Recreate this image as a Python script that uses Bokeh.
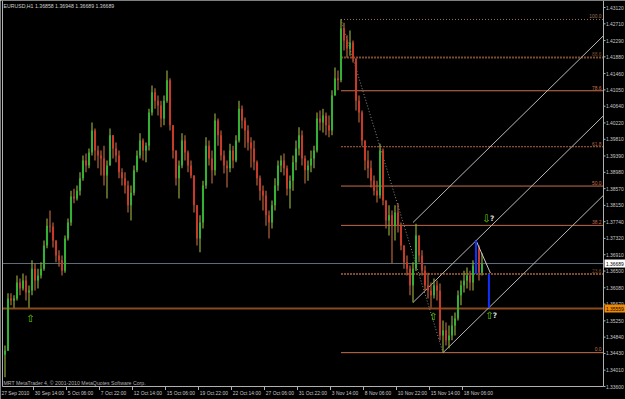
from bokeh.plotting import figure
from bokeh.models import Range1d
from bokeh.embed import file_html
from bokeh.resources import INLINE
from bokeh.core.properties import value

# ---------------- data ----------------
symbol_header = "EURUSD,H1  1.36858 1.36948 1.36689 1.36689"
copyright_text = "MRT MetaTrader 4, \u00a9 2001-2010 MetaQuotes Software Corp."

first_open = 1.3440
highs = [
    1.3463, 1.3594, 1.3594, 1.3589, 1.3639, 1.3631, 1.3644, 1.3639, 1.3614, 1.3677,
    1.3669, 1.3656, 1.3672, 1.3727, 1.3782, 1.3802, 1.3772, 1.3727, 1.3702, 1.3689,
    1.3739, 1.3782, 1.3852, 1.3857, 1.3865, 1.3898, 1.3940, 1.3945, 1.3958, 1.4023,
    1.4008, 1.3965, 1.3953, 1.3965, 1.3928, 1.4008, 1.3991, 1.3973, 1.3953, 1.3908,
    1.3898, 1.3877, 1.3865, 1.3915, 1.3953, 1.3996, 1.3983, 1.3973, 1.4058, 1.4116,
    1.4109, 1.4091, 1.4078, 1.4091, 1.4154, 1.4134, 1.4016, 1.3953, 1.3928, 1.3996,
    1.3991, 1.3953, 1.3928, 1.3890, 1.3815, 1.3790, 1.3877, 1.3986, 1.3978, 1.3953,
    1.4046, 1.4033, 1.4003, 1.3953, 1.3928, 1.3970, 1.3965, 1.3991, 1.4078, 1.4066,
    1.4036, 1.4016, 1.3986, 1.3978, 1.3928, 1.3890, 1.3865, 1.3852, 1.3802, 1.3827,
    1.3883, 1.3928, 1.3940, 1.3945, 1.3915, 1.3890, 1.3940, 1.3978, 1.4011, 1.4003,
    1.3940, 1.3928, 1.3953, 1.3965, 1.4048, 1.4053, 1.4058, 1.4048, 1.4041, 1.4104,
    1.4161, 1.4154, 1.4282, 1.4274, 1.4242, 1.4254, 1.4229, 1.4184, 1.4091, 1.4053,
    1.3978, 1.3953, 1.3928, 1.3890, 1.3877, 1.3970, 1.3958, 1.3827, 1.3815, 1.3802,
    1.3815, 1.3820, 1.3772, 1.3714, 1.3689, 1.3664, 1.3672, 1.3769, 1.3739, 1.3702,
    1.3664, 1.3646, 1.3621, 1.3631, 1.3626, 1.3619, 1.3526, 1.3521, 1.3513, 1.3538,
    1.3546, 1.3601, 1.3626, 1.3651, 1.3659, 1.3651, 1.3677, 1.3727, 1.3714, 1.3695,
]
lows = [
    1.3383, 1.3450, 1.3564, 1.3558, 1.3576, 1.3589, 1.3601, 1.3576, 1.3558, 1.3589,
    1.3601, 1.3606, 1.3631, 1.3651, 1.3707, 1.3747, 1.3709, 1.3672, 1.3661, 1.3639,
    1.3646, 1.3727, 1.3764, 1.3820, 1.3827, 1.3840, 1.3877, 1.3898, 1.3908, 1.3940,
    1.3928, 1.3908, 1.3890, 1.3865, 1.3832, 1.3915, 1.3933, 1.3923, 1.3883, 1.3865,
    1.3845, 1.3797, 1.3777, 1.3840, 1.3898, 1.3933, 1.3928, 1.3923, 1.3953, 1.4041,
    1.4058, 1.4041, 1.4011, 1.4016, 1.4073, 1.4003, 1.3933, 1.3865, 1.3832, 1.3908,
    1.3928, 1.3898, 1.3883, 1.3797, 1.3714, 1.3697, 1.3757, 1.3857, 1.3915, 1.3870,
    1.3890, 1.3965, 1.3928, 1.3895, 1.3860, 1.3898, 1.3908, 1.3923, 1.3973, 1.4008,
    1.3960, 1.3953, 1.3910, 1.3903, 1.3865, 1.3827, 1.3802, 1.3764, 1.3732, 1.3757,
    1.3802, 1.3852, 1.3898, 1.3890, 1.3840, 1.3807, 1.3852, 1.3903, 1.3940, 1.3915,
    1.3870, 1.3877, 1.3898, 1.3908, 1.3948, 1.4003, 1.3998, 1.3991, 1.3986, 1.3991,
    1.4091, 1.4104, 1.4124, 1.4204, 1.4186, 1.4191, 1.4174, 1.4053, 1.4023, 1.3965,
    1.3903, 1.3883, 1.3860, 1.3840, 1.3822, 1.3832, 1.3815, 1.3757, 1.3739, 1.3669,
    1.3727, 1.3747, 1.3702, 1.3656, 1.3639, 1.3589, 1.3571, 1.3650, 1.3672, 1.3639,
    1.3601, 1.3581, 1.3558, 1.3581, 1.3576, 1.3476, 1.3445, 1.3463, 1.3456, 1.3476,
    1.3488, 1.3526, 1.3564, 1.3596, 1.3606, 1.3601, 1.3601, 1.3651, 1.3626, 1.3639,
]
closes = [
    1.3450, 1.3581, 1.3576, 1.3581, 1.3621, 1.3606, 1.3626, 1.3596, 1.3601, 1.3656,
    1.3626, 1.3639, 1.3656, 1.3714, 1.3764, 1.3762, 1.3727, 1.3689, 1.3677, 1.3651,
    1.3732, 1.3772, 1.3837, 1.3832, 1.3852, 1.3883, 1.3928, 1.3915, 1.3948, 1.4003,
    1.3953, 1.3940, 1.3933, 1.3890, 1.3915, 1.3991, 1.3958, 1.3940, 1.3898, 1.3883,
    1.3865, 1.3815, 1.3847, 1.3903, 1.3940, 1.3978, 1.3953, 1.3965, 1.4048, 1.4099,
    1.4078, 1.4066, 1.4033, 1.4078, 1.4129, 1.4016, 1.3953, 1.3883, 1.3915, 1.3978,
    1.3948, 1.3915, 1.3890, 1.3815, 1.3732, 1.3772, 1.3865, 1.3965, 1.3933, 1.3903,
    1.4028, 1.3991, 1.3940, 1.3915, 1.3908, 1.3953, 1.3928, 1.3978, 1.4058, 1.4028,
    1.4003, 1.3973, 1.3958, 1.3923, 1.3883, 1.3852, 1.3840, 1.3790, 1.3772, 1.3815,
    1.3865, 1.3915, 1.3928, 1.3908, 1.3857, 1.3877, 1.3923, 1.3958, 1.3991, 1.3933,
    1.3903, 1.3915, 1.3933, 1.3953, 1.4033, 1.4023, 1.4041, 1.4016, 1.4003, 1.4091,
    1.4134, 1.4129, 1.4259, 1.4229, 1.4209, 1.4224, 1.4184, 1.4078, 1.4048, 1.3978,
    1.3928, 1.3908, 1.3877, 1.3852, 1.3840, 1.3953, 1.3827, 1.3777, 1.3790, 1.3764,
    1.3797, 1.3764, 1.3714, 1.3672, 1.3656, 1.3614, 1.3656, 1.3739, 1.3689, 1.3651,
    1.3614, 1.3601, 1.3589, 1.3614, 1.3601, 1.3488, 1.3501, 1.3476, 1.3488, 1.3513,
    1.3531, 1.3589, 1.3614, 1.3626, 1.3639, 1.3621, 1.3664, 1.3707, 1.3646, 1.3669,
]

price_ticks = [1.43120, 1.42710, 1.42290, 1.41880, 1.41460, 1.41050, 1.40640, 1.40220,
               1.39810, 1.39390, 1.38980, 1.38570, 1.38150, 1.37740, 1.37320, 1.36910,
               1.36500, 1.36080, 1.35670, 1.35250, 1.34840, 1.34430, 1.34010, 1.33600]
first_date_label = "27 Sep 2010"
date_labels = ["30 Sep 14:00", "5 Oct 06:00", "7 Oct 22:00", "12 Oct 14:00", "15 Oct 06:00",
               "19 Oct 22:00", "22 Oct 14:00", "27 Oct 06:00", "31 Oct 22:00", "3 Nov 14:00",
               "8 Nov 06:00", "10 Nov 22:00", "15 Nov 14:00", "18 Nov 06:00"]
date_tick_bars = [9.5, 20.5, 31.5, 42.5, 53.5, 64.5, 75.5, 86.5, 97.5, 108.5,
                  119.5, 130.5, 141.5, 152.5]

bid_price = 1.36689
level_price = 1.35559

fib_high = 1.4282
fib_low = 1.3445
fib_start_bar = 112
fib_end_bar = 146
fib_levels = [100.0, 88.6, 78.6, 61.8, 50.0, 38.2, 23.6, 0.0]

channel_slope = 0.000739          # price per bar
channel_start_bars = [136, 136, 146]
channel_start_prices = [1.3571, 1.3772, 1.3445]

peak_bar = 157
target_bar = 161.3
up_arrow_bars = [8.5, 142.7, 161.5]
up_arrow_prices = [1.3532, 1.3536, 1.3538]
down_arrow_bars = [160.5]
down_arrow_prices = [1.3782]

# ---------------- layout helpers (pixel -> data) ----------------
W, H = 625, 399
BAR_PX = 3.0
FIRST_BAR_PX = 4.5
TOP_PRICE = 1.43296
PRICE_PER_PX = 0.00025119


def xd(px):
    return (px - FIRST_BAR_PX) / BAR_PX


def yd(py):
    return TOP_PRICE - py * PRICE_PER_PX


X_LEFT = xd(2)
X_END = xd(603)
BOTTOM = price_ticks[-1]
FONT = value("Liberation Sans")
SMALL = value("4.9px")

p = figure(width=W, height=H, x_range=Range1d(xd(0), xd(W)), y_range=Range1d(yd(H), yd(0)),
           toolbar_location=None, output_backend="svg", min_border=0,
           x_axis_location=None, y_axis_location=None,
           background_fill_color="black", border_fill_color="black",
           outline_line_color=None)
p.grid.visible = False

# horizontal full-width lines
p.line([X_LEFT, X_END], [level_price, level_price], line_color="#8a4a1c", line_width=2)
p.line([X_LEFT, X_END], [bid_price, bid_price], line_color="#5d6f7f", line_width=1)

# fibonacci levels
fib_styles = [("#9c7458", 1, "1 2"), ("#7c4a2c", 2, "2 1"), ("#c8704c", 1, "solid"),
              ("#b46448", 1, "2 1"), ("#c8704c", 1, "solid"), ("#c0684a", 1, "solid"),
              ("#7c4a2c", 2, "2 1"), ("#c8704c", 1, "solid")]
fib_prices = [fib_low + (fib_high - fib_low) * lv / 100.0 for lv in fib_levels]
for lv, fp, (col, lw, dash) in zip(fib_levels, fib_prices, fib_styles):
    p.line([fib_start_bar, X_END], [fp, fp], line_color=col, line_width=lw, line_dash=dash)
    p.text(x=[xd(601)], y=[fp + 1.2 * PRICE_PER_PX], text=["%.1f" % lv], text_color=col,
           text_font=FONT, text_font_size=SMALL, text_align="right",
           text_baseline="bottom")

# dotted trend line high -> low
p.line([fib_start_bar, fib_end_bar], [fib_high, fib_low], line_color="#8c8c8c",
       line_dash="1 2", line_width=1)

# parallel channel
for sb, sp in zip(channel_start_bars, channel_start_prices):
    p.line([sb, X_END], [sp, sp + channel_slope * (X_END - sb)],
           line_color="#b8b8b8", line_width=1)

# candles
opens = [first_open] + closes[:-1]
idx = list(range(len(closes)))
bull = [c >= o for o, c in zip(opens, closes)]
body_col = ["#34b034" if b else "#c83a28" for b in bull]
wick_col = ["#90a83a" if b else "#b4663a" for b in bull]
p.segment(idx, lows, idx, highs, line_color=wick_col, line_width=1.2)
p.vbar(x=idx, width=0.68, top=[max(o, c) for o, c in zip(opens, closes)],
       bottom=[min(o, c) for o, c in zip(opens, closes)], fill_color=body_col,
       line_color=None)

# projection marks
fib236 = fib_prices[fib_levels.index(23.6)]
line3_at_target = channel_start_prices[2] + channel_slope * (target_bar - channel_start_bars[2])
p.line([peak_bar, target_bar + 0.5], [highs[peak_bar], fib236 + 1.0 * PRICE_PER_PX],
       line_color="#c8c8c8", line_width=1)
p.segment([peak_bar, target_bar], [highs[peak_bar], fib236],
          [peak_bar, target_bar], [fib236, line3_at_target],
          line_color="#1030ff", line_width=2)

# arrows
p.text(x=up_arrow_bars, y=up_arrow_prices, text=["\u21e7"] * len(up_arrow_bars),
       text_color="#6ccc00", text_font=value("DejaVu Sans"), text_font_size=value("10px"),
       text_align="center", text_baseline="middle")
p.text(x=down_arrow_bars, y=down_arrow_prices, text=["\u21e9"] * len(down_arrow_bars),
       text_color="#6ccc00", text_font=value("DejaVu Sans"), text_font_size=value("10px"),
       text_align="center", text_baseline="middle")
q_bars = [up_arrow_bars[2] + 1.8, down_arrow_bars[0] + 1.9]
q_prices = [up_arrow_prices[2], down_arrow_prices[0]]
p.text(x=q_bars, y=q_prices, text=["?", "?"], text_color="#d8d8d8",
       text_font=value("DejaVu Sans"), text_font_size=value("7.5px"), text_font_style="bold",
       text_align="center", text_baseline="middle")

# frame
p.line([X_LEFT, X_LEFT], [yd(0), BOTTOM], line_color="#b0b0b0", line_width=1)
p.line([X_LEFT, X_END], [BOTTOM, BOTTOM], line_color="#b0b0b0", line_width=1)
p.line([X_END, X_END], [yd(0), BOTTOM], line_color="#b0b0b0", line_width=1)

# price scale
p.segment([X_END] * len(price_ticks), price_ticks, [xd(605)] * len(price_ticks), price_ticks,
          line_color="#b0b0b0", line_width=1)
p.text(x=[xd(605.5)] * len(price_ticks), y=price_ticks, text=["%.5f" % t for t in price_ticks],
       text_color="#c8c8c8", text_font=FONT, text_font_size=SMALL,
       text_align="left", text_baseline="middle")

# price boxes
for pr, bg in ((level_price, "#f08a00"), (bid_price, "#ffffff")):
    p.quad(left=[xd(604)], right=[xd(625)], top=[pr + 4 * PRICE_PER_PX],
           bottom=[pr - 4 * PRICE_PER_PX], fill_color=bg, line_color=None)
    p.text(x=[xd(605.5)], y=[pr], text=["%.5f" % pr], text_color="#000000",
           text_font=FONT, text_font_size=SMALL, text_align="left",
           text_baseline="middle")

# time scale
p.segment(date_tick_bars, [BOTTOM] * len(date_tick_bars), date_tick_bars,
          [yd(389.5)] * len(date_tick_bars), line_color="#b0b0b0", line_width=1)
p.text(x=[b + 0.45 for b in date_tick_bars], y=[yd(392.5)] * len(date_tick_bars),
       text=date_labels, text_color="#c8c8c8", text_font=FONT,
       text_font_size=SMALL, text_align="left", text_baseline="middle")
p.text(x=[xd(1)], y=[yd(392.5)], text=[first_date_label], text_color="#c8c8c8",
       text_font=FONT, text_font_size=SMALL, text_align="left",
       text_baseline="middle")

# header and copyright
p.text(x=[xd(3)], y=[yd(5.5)], text=[symbol_header], text_color="#d0d0d0", text_font=FONT,
       text_font_size=value("5.2px"), text_align="left", text_baseline="middle")
p.text(x=[xd(3)], y=[yd(385)], text=[copyright_text], text_color="#b0b0b0", text_font=FONT,
       text_font_size=value("5.2px"), text_align="left", text_baseline="bottom")

open("out.html", "w").write(file_html(p, INLINE))
